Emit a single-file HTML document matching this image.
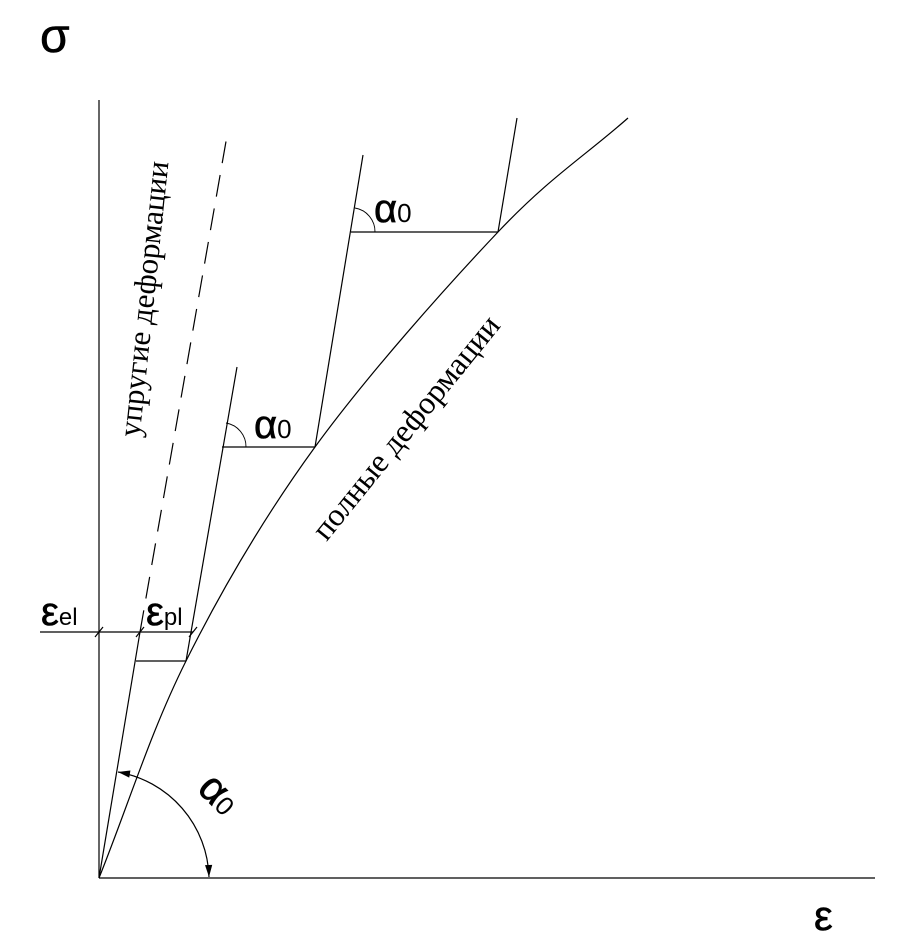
<!DOCTYPE html>
<html><head><meta charset="utf-8"><style>
html,body{margin:0;padding:0;background:#fff;}
svg{display:block;}
.s{font-family:"Liberation Sans",sans-serif;fill:#000;stroke:#000;stroke-width:0.6;}
.r{font-family:"Liberation Serif",serif;fill:#000;}
</style></head><body>
<svg width="912" height="944" viewBox="0 0 912 944" xmlns="http://www.w3.org/2000/svg">
<defs>
<marker id="ar" viewBox="0 0 10 10" refX="10" refY="5" markerWidth="22" markerHeight="12" markerUnits="userSpaceOnUse" orient="auto-start-reverse"><path d="M0,2 L10,5 L0,8z" fill="#000"/></marker>
</defs>
<g stroke="#000" stroke-width="1.2" fill="none">
<line x1="99" y1="100" x2="99" y2="878"/>
<line x1="99" y1="878" x2="875" y2="878"/>
<line x1="99" y1="878" x2="140" y2="632"/>
<line x1="140" y1="632" x2="228" y2="130" stroke-dasharray="22,12"/>
<path d="M99,878 C128,806 150,733 186,661 C222,589 263,518.5 315,447 C367,375.5 446,287 498,232 C550,177 585,156 628,118"/>
<line x1="136" y1="661" x2="186" y2="661"/>
<line x1="186" y1="661" x2="237" y2="367"/>
<line x1="222" y1="447" x2="315" y2="447"/>
<line x1="315" y1="447" x2="363" y2="155"/>
<line x1="351" y1="232" x2="498" y2="232"/>
<line x1="498" y1="232" x2="517" y2="118"/>
<path d="M246,447 A24,24 0 0 0 226,423" stroke-width="0.9"/>
<path d="M375,232 A24,24 0 0 0 355,208" stroke-width="0.9"/>
<line x1="40" y1="632" x2="193" y2="632"/>
<line x1="95" y1="637" x2="103" y2="627"/>
<line x1="136" y1="637" x2="144" y2="627"/>
<line x1="189" y1="637" x2="197" y2="627"/>
<path d="M209,877 A110,110 0 0 0 118,772" marker-start="url(#ar)" marker-end="url(#ar)"/>
</g>
<text class="s" x="40" y="52" font-size="48">σ</text>
<text class="s" x="814" y="930" font-size="42">ε</text>
<text class="s" x="41" y="625" font-size="40">ε<tspan font-size="24" stroke-width="0">el</tspan></text>
<text class="s" x="146" y="625" font-size="40">ε<tspan font-size="24" stroke-width="0">pl</tspan></text>
<text class="s" x="254" y="438" font-size="40">α<tspan font-size="26" stroke-width="0">0</tspan></text>
<text class="s" x="374" y="222" font-size="40">α<tspan font-size="26" stroke-width="0">0</tspan></text>
<text class="s" font-size="42" transform="translate(196,790) rotate(45)">α<tspan font-size="26" stroke-width="0">0</tspan></text>
<text class="r" font-size="31" text-anchor="middle" transform="translate(154,300) rotate(-84)">упругие деформации</text>
<text class="r" font-size="32" text-anchor="middle" transform="translate(414,434) rotate(-51)">полные деформации</text>
</svg>
</body></html>
